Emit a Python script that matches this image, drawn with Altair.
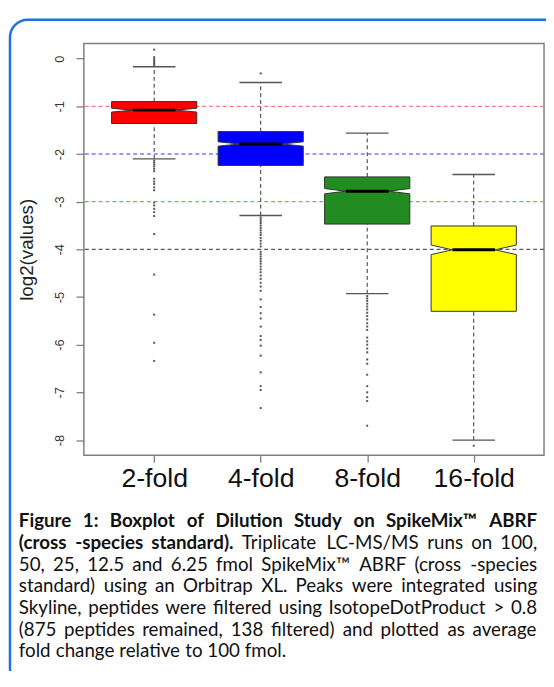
import glob
import struct

import altair as alt
import pandas as pd

# ---------------- data ----------------
groups = ["2-fold", "4-fold", "8-fold", "16-fold"]
positions = [1, 2, 3, 4]
box_colors = ["#ff0000", "#0000ff", "#228b22", "#ffff00"]

q1 = [-1.36, -2.24, -3.47, -5.30]
median = [-1.08, -1.79, -2.78, -4.01]
q3 = [-0.90, -1.53, -2.48, -3.51]
whisker_lo = [-2.10, -3.29, -4.93, -8.00]
whisker_hi = [-0.17, -0.50, -1.56, -2.43]
notch = [0.04, 0.045, 0.055, 0.10]

out_2fold = [0.19, 0.03, -0.01, -0.05, -0.08, -0.11, -0.14,
             -2.14, -2.18, -2.22, -2.26, -2.31, -2.36, -2.52, -2.58, -2.63,
             -2.70, -2.76, -3.02, -3.08, -3.15, -3.22, -3.30, -3.68, -4.53,
             -5.37, -5.96, -6.34]
out_4fold = [-0.31, -3.33, -3.37, -3.41, -3.45, -3.50, -3.55, -3.60, -3.65,
             -3.70, -3.76, -3.82, -3.88, -3.94, -4.05, -4.10, -4.15, -4.20,
             -4.25, -4.30, -4.36, -4.42, -4.48, -4.55, -4.62, -4.70, -4.78,
             -4.87, -5.05, -5.21, -5.34, -5.45, -5.62, -5.82, -5.90, -6.02,
             -6.23, -6.58, -6.87, -6.95, -7.33]
out_8fold = [-4.98, -5.03, -5.08, -5.14, -5.20, -5.26, -5.33, -5.40, -5.47,
             -5.55, -5.62, -5.69, -5.85, -5.93, -6.00, -6.08, -6.16, -6.31,
             -6.40, -6.63, -6.87, -7.00, -7.10, -7.18, -7.70]
out_16fold = [-8.12]
outliers = [out_2fold, out_4fold, out_8fold, out_16fold]

ref_levels = [-1, -2, -3, -4]
ref_colors = ["#ff7a7a", "#7a7aff", "#74b874", "#5a5a5a"]
y_ticks = [0, -1, -2, -3, -4, -5, -6, -7, -8]

caption_bold_1 = "Figure 1: Boxplot of Dilution Study on SpikeMix\u2122 ABRF"
caption_bold_2 = "(cross -species standard)."
caption_reg_2 = "Triplicate LC-MS/MS runs on 100,"
caption_lines = [
    "50, 25, 12.5 and 6.25 fmol SpikeMix\u2122 ABRF (cross -species",
    "standard) using an Orbitrap XL.  Peaks were integrated using",
    "Skyline, peptides were filtered using IsotopeDotProduct > 0.8",
    "(875 peptides remained, 138 filtered) and plotted as average",
    "fold change relative to 100 fmol.",
]

# ---------------- plot geometry ----------------
PLOT_W, PLOT_H = 467, 418
X_DOM = [0.34, 4.66]
Y_DOM = [-8.32, 0.32]
BOX_HALF = 0.4
NOTCH_HALF = 0.2
CAP_HALF = 0.2

# ---------------- tables ----------------
stats = pd.DataFrame({
    "group": groups, "pos": positions, "q1": q1, "med": median, "q3": q3,
    "wlo": whisker_lo, "whi": whisker_hi,
})
stats["cl"] = stats["pos"] - CAP_HALF
stats["cr"] = stats["pos"] + CAP_HALF
stats["ml"] = stats["pos"] - NOTCH_HALF
stats["mr"] = stats["pos"] + NOTCH_HALF

area_rows = []
for g, p, a, m, b, n in zip(groups, positions, q1, median, q3, notch):
    for yv, hw in [(a, BOX_HALF), (m - n, BOX_HALF), (m, NOTCH_HALF),
                   (m + n, BOX_HALF), (b, BOX_HALF)]:
        area_rows.append({"group": g, "y": yv, "xl": p - hw, "xr": p + hw})
area_df = pd.DataFrame(area_rows)

out_rows = []
for g, p, vals in zip(groups, positions, outliers):
    for v in vals:
        out_rows.append({"group": g, "pos": p, "val": v})
out_df = pd.DataFrame(out_rows)

ref_df = pd.DataFrame({"level": ref_levels, "col": ref_colors})
one = pd.DataFrame({"a": [0]})


# ---------------- caption layout (justified, like the source document) ----
def load_metrics(path):
    with open(path, "rb") as f:
        data = f.read()
    ntab = struct.unpack(">H", data[4:6])[0]
    tabs = {}
    for i in range(ntab):
        o = 12 + 16 * i
        tag = data[o:o + 4].decode("latin1")
        _, toff, tlen = struct.unpack(">III", data[o + 4:o + 16])
        tabs[tag] = toff
    upem = struct.unpack(">H", data[tabs["head"] + 18:tabs["head"] + 20])[0]
    nhm = struct.unpack(">H", data[tabs["hhea"] + 34:tabs["hhea"] + 36])[0]
    hm = tabs["hmtx"]
    adv = [struct.unpack(">H", data[hm + 4 * i:hm + 4 * i + 2])[0]
           for i in range(nhm)]
    cm = tabs["cmap"]
    nsub = struct.unpack(">H", data[cm + 2:cm + 4])[0]
    best = None
    for i in range(nsub):
        pid, eid, off = struct.unpack(">HHI", data[cm + 4 + 8 * i:cm + 12 + 8 * i])
        sub = cm + off
        fmt = struct.unpack(">H", data[sub:sub + 2])[0]
        if fmt == 12 and pid in (0, 3):
            best = (12, sub)
        elif fmt == 4 and pid in (0, 3) and best is None:
            best = (4, sub)
    cmap = {}
    fmt, sub = best
    if fmt == 4:
        segx2 = struct.unpack(">H", data[sub + 6:sub + 8])[0]
        seg = segx2 // 2
        ends = struct.unpack(">%dH" % seg, data[sub + 14:sub + 14 + segx2])
        so = sub + 16 + segx2
        starts = struct.unpack(">%dH" % seg, data[so:so + segx2])
        do = so + segx2
        deltas = struct.unpack(">%dh" % seg, data[do:do + segx2])
        ro = do + segx2
        ros = struct.unpack(">%dH" % seg, data[ro:ro + segx2])
        for s in range(seg):
            for c in range(starts[s], min(ends[s], 0x3000) + 1):
                if ros[s] == 0:
                    gi = (c + deltas[s]) & 0xFFFF
                else:
                    addr = ro + 2 * s + ros[s] + 2 * (c - starts[s])
                    gi = struct.unpack(">H", data[addr:addr + 2])[0]
                    if gi:
                        gi = (gi + deltas[s]) & 0xFFFF
                cmap[c] = gi
    else:
        ng = struct.unpack(">I", data[sub + 12:sub + 16])[0]
        for k in range(ng):
            sc, ec, sg = struct.unpack(">III", data[sub + 16 + 12 * k:sub + 28 + 12 * k])
            for c in range(sc, min(ec, 0x3000) + 1):
                cmap[c] = sg + c - sc
    return upem, adv, cmap


def find_font(name):
    for root in ["/usr/share/fonts", "/usr/local/share/fonts", "/root/.fonts",
                 "/usr/share/fonts/truetype"]:
        hits = glob.glob(root + "/**/" + name, recursive=True)
        if hits:
            return hits[0]
    return None


CAP_FS = 19
metrics = {}
for key, fname, fallback in [(False, "Lato-Regular.*", 0.43), (True, "Lato-Bold.*", 0.47)]:
    m = None
    try:
        p = find_font(fname)
        if p:
            m = load_metrics(p)
    except Exception:
        m = None
    metrics[key] = (m, fallback)


def text_w(s, bold):
    m, fb = metrics[bold]
    if m is None:
        return len(s) * fb * CAP_FS
    upem, adv, cmap = m
    tot = 0.0
    for ch in s:
        gi = cmap.get(ord(ch))
        if gi is None:
            tot += 0.5 * upem
        else:
            tot += adv[min(gi, len(adv) - 1)]
    return tot / upem * CAP_FS


line_words = [[(w, True) for w in caption_bold_1.split()],
              [(w, True) for w in caption_bold_2.split()] +
              [(w, False) for w in caption_reg_2.split()]]
for ln in caption_lines:
    line_words.append([(w, False) for w in ln.split()])
justify = [True, True, True, True, True, True, False]

TXT_L, TXT_R = -66, 460           # px relative to plot origin
line_y = [491, 513, 535, 557, 579, 601, 623]

word_rows = []
for words, ly, just in zip(line_words, line_y, justify):
    widths = [text_w(w, b) for w, b in words]
    space = text_w(" ", False)
    if just and len(words) > 1:
        gap = max((TXT_R - TXT_L - sum(widths)) / (len(words) - 1), 0.8 * space)
    else:
        gap = space
    x = TXT_L
    for (w, b), wd in zip(words, widths):
        word_rows.append({
            "word": w, "bold": b,
            "xd": X_DOM[0] + x / PLOT_W * (X_DOM[1] - X_DOM[0]),
            "yd": Y_DOM[1] - ly / PLOT_H * (Y_DOM[1] - Y_DOM[0]),
        })
        x += wd + gap
words_df = pd.DataFrame(word_rows)

# ---------------- scales & axes ----------------
xscale = alt.Scale(domain=X_DOM, nice=False, zero=False)
yscale = alt.Scale(domain=Y_DOM, nice=False, zero=False)

x_label_expr = "[" + ",".join("'%s'" % g for g in groups) + "][datum.value - 1]"
xaxis = alt.Axis(values=positions, labelExpr=x_label_expr, title=None,
                 grid=False, domain=False, tickSize=7, tickColor="#7f7f7f",
                 tickWidth=1.3, labelFont="Liberation Sans", labelFontSize=27,
                 labelColor="#111111", labelBaseline="alphabetic",
                 labelPadding=25, labelFlush=False, labelOverlap=False)
yaxis = alt.Axis(values=y_ticks, labelExpr="'' + datum.value",
                 title="log2(values)", grid=False, domain=False, tickSize=8,
                 tickColor="#7f7f7f", tickWidth=1.3, labelAngle=270,
                 labelAlign="center", labelBaseline="alphabetic",
                 labelPadding=13, labelFont="Liberation Sans",
                 labelFontSize=13, labelColor="#333333", labelFlush=False,
                 labelOverlap=False, titleFont="Liberation Sans",
                 titleFontSize=19, titleFontWeight="normal",
                 titleColor="#222222", titleX=-58, titleY=209,
                 titleAngle=270, titleAlign="center", titleBaseline="middle")


def X(f):
    return alt.X(f, scale=xscale, axis=xaxis)


def Y(f):
    return alt.Y(f, scale=yscale, axis=yaxis)


# ---------------- layers ----------------
border = alt.Chart(one).mark_rect(
    fill="#ffffff", fillOpacity=0, stroke="#1f6fe8", strokeWidth=2.5,
    cornerRadius=18,
).encode(x=alt.value(-75), x2=alt.value(620), y=alt.value(-24),
         y2=alt.value(652))

ref = alt.Chart(ref_df).mark_rule(strokeDash=[4, 3], strokeWidth=1.4).encode(
    y=Y("level:Q"), stroke=alt.Stroke("col:N", scale=None))

wh_hi = alt.Chart(stats).mark_rule(strokeDash=[4, 3], color="#333333",
                                   strokeWidth=1).encode(
    x=X("pos:Q"), y=Y("q3:Q"), y2="whi:Q")
wh_lo = alt.Chart(stats).mark_rule(strokeDash=[4, 3], color="#333333",
                                   strokeWidth=1).encode(
    x=X("pos:Q"), y=Y("wlo:Q"), y2="q1:Q")
cap_hi = alt.Chart(stats).mark_rule(color="#555555", strokeWidth=1.3).encode(
    x=X("cl:Q"), x2="cr:Q", y=Y("whi:Q"))
cap_lo = alt.Chart(stats).mark_rule(color="#555555", strokeWidth=1.3).encode(
    x=X("cl:Q"), x2="cr:Q", y=Y("wlo:Q"))

boxes = alt.Chart(area_df).mark_area(
    orient="horizontal", stroke="#333333", strokeWidth=1, opacity=1
).encode(
    y=Y("y:Q"),
    x=alt.X("xl:Q", scale=xscale, axis=xaxis, stack=None),
    x2="xr:Q",
    fill=alt.Fill("group:N", scale=alt.Scale(domain=groups, range=box_colors),
                  legend=None),
)

medians = alt.Chart(stats).mark_rule(color="#000000", strokeWidth=3).encode(
    x=X("ml:Q"), x2="mr:Q", y=Y("med:Q"))

pts = alt.Chart(out_df).mark_square(size=4, color="#555555", opacity=1).encode(
    x=X("pos:Q"), y=Y("val:Q"))

cap_bold = alt.Chart(words_df[words_df["bold"]]).mark_text(
    align="left", baseline="alphabetic", font="Lato", fontSize=CAP_FS,
    fontWeight="bold", color="#111111",
).encode(x=X("xd:Q"), y=Y("yd:Q"), text="word:N")
cap_reg = alt.Chart(words_df[~words_df["bold"]]).mark_text(
    align="left", baseline="alphabetic", font="Lato", fontSize=CAP_FS,
    color="#111111",
).encode(x=X("xd:Q"), y=Y("yd:Q"), text="word:N")

chart = alt.layer(
    border, ref, wh_hi, wh_lo, cap_hi, cap_lo, boxes, medians, pts,
    cap_bold, cap_reg,
).properties(
    width=PLOT_W, height=PLOT_H,
    padding={"left": 77, "top": 31, "right": 2, "bottom": 214},
    autosize=alt.AutoSizeParams(type="none"),
).configure_view(stroke="#7f7f7f", strokeWidth=1.5)

chart.save("out.html", embed_options={"renderer": "svg", "actions": False})
